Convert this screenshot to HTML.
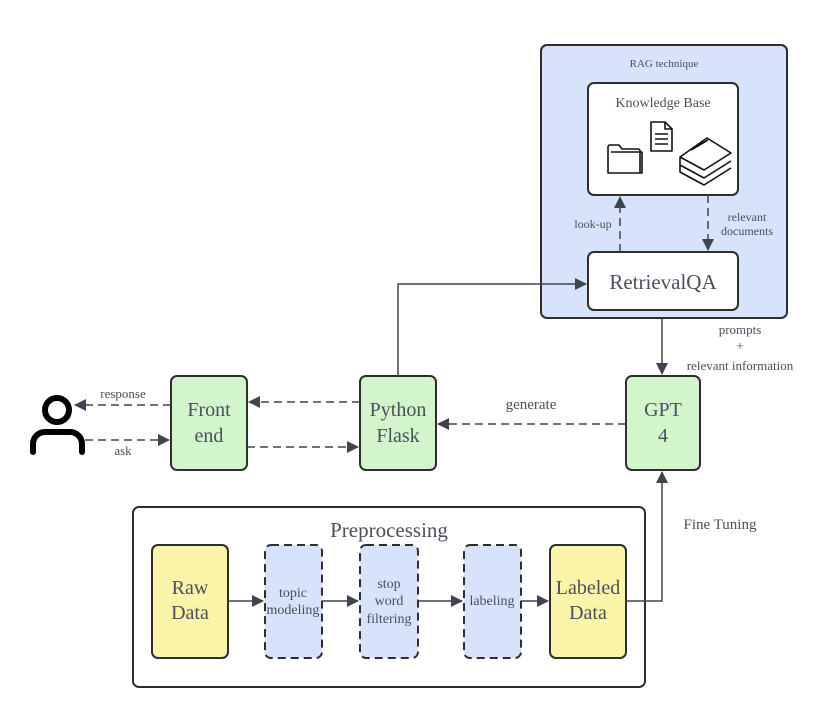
<!DOCTYPE html>
<html><head><meta charset="utf-8"><style>
body{margin:0;background:#fff;width:824px;height:720px;overflow:hidden}
svg text{font-family:"Liberation Serif",serif;fill:#4a4f5c}
</style></head><body>
<svg width="824" height="720" viewBox="0 0 824 720" xmlns="http://www.w3.org/2000/svg">
<defs>
<marker id="a" markerWidth="12" markerHeight="12" refX="11" refY="6" orient="auto" markerUnits="userSpaceOnUse"><path d="M0,0 L12,6 L0,12z" fill="#3f4450"/></marker>
</defs>
<g stroke="#2e2e2e" stroke-width="2">
<rect x="541" y="45" width="246" height="273" rx="6" fill="#d6e3fb"/>
<rect x="588" y="83" width="150" height="112" rx="6" fill="#fff"/>
<rect x="588" y="252" width="150" height="58" rx="6" fill="#fff"/>
<rect x="171" y="376" width="76" height="94" rx="6" fill="#d3f5cc"/>
<rect x="360" y="376" width="76" height="94" rx="6" fill="#d3f5cc"/>
<rect x="626" y="376" width="74" height="94" rx="6" fill="#d3f5cc"/>
<rect x="133" y="507" width="512" height="180" rx="6" fill="#fff"/>
<rect x="152" y="545" width="76" height="113" rx="6" fill="#faf5a8"/>
<rect x="550" y="545" width="76" height="113" rx="6" fill="#faf5a8"/>
<g fill="#d6e3fb" stroke-dasharray="8,5">
<rect x="265" y="545" width="57" height="113" rx="6"/>
<rect x="360" y="545" width="58" height="113" rx="6"/>
<rect x="464" y="545" width="57" height="113" rx="6"/>
</g>
</g>
<!-- person -->
<circle cx="57" cy="410" r="12" fill="none" stroke="#000" stroke-width="6"/>
<path d="M33,452 V444 A12,12 0 0 1 45,432 H70 A12,12 0 0 1 82,444 V452" fill="none" stroke="#000" stroke-width="6" stroke-linecap="round"/>
<!-- icons -->
<g fill="none" stroke="#111" stroke-width="1.6" stroke-linejoin="round">
<path d="M608,173 V147 Q608,145 610,145 H619 L622,149 H638 Q640,149 640,151 V173 Z M611,152 H642 V173 H640"/>
<path d="M651,122 H665 L672,129 V151 H651 Z M665,122 V129 H672 M655,134 H668 M655,139 H668 M655,144 H668"/>
<path d="M680,157 L707,138 L731,153 L704,170 Z M680,157 V165 L704,178 L731,161 M680,165 V172 L704,185 L731,168 M691,150 L708,140"/>
</g>
<!-- connectors -->
<g stroke="#3f4450" stroke-width="1.5" fill="none">
<path d="M398,376 V284 H586" marker-end="url(#a)"/>
<path d="M662,318 V374" marker-end="url(#a)"/>
<path d="M626,601 H662 V472" marker-end="url(#a)"/>
<path d="M228,601 H263" marker-end="url(#a)"/>
<path d="M322,601 H358" marker-end="url(#a)"/>
<path d="M418,601 H462" marker-end="url(#a)"/>
<path d="M521,601 H548" marker-end="url(#a)"/>
<g stroke-dasharray="8,5">
<path d="M620,252 V197" marker-end="url(#a)"/>
<path d="M708,195 V250" marker-end="url(#a)"/>
<path d="M171,405 H75" marker-end="url(#a)"/>
<path d="M85,440 H169" marker-end="url(#a)"/>
<path d="M360,402 H249" marker-end="url(#a)"/>
<path d="M247,447 H358" marker-end="url(#a)"/>
<path d="M626,424 H438" marker-end="url(#a)"/>
</g>
</g>
<!-- text -->
<text x="664" y="67" font-size="11" text-anchor="middle">RAG technique</text>
<text x="663" y="107" font-size="14" text-anchor="middle">Knowledge Base</text>
<text x="663" y="289" font-size="21" text-anchor="middle">RetrievalQA</text>
<text x="593" y="228" font-size="12" text-anchor="middle">look-up</text>
<text x="747" y="221" font-size="12" text-anchor="middle">relevant</text>
<text x="747" y="235" font-size="12" text-anchor="middle">documents</text>
<text x="740" y="334" font-size="13" text-anchor="middle">prompts</text>
<text x="740" y="350" font-size="13" text-anchor="middle">+</text>
<text x="740" y="370" font-size="13" text-anchor="middle">relevant information</text>
<text x="209" y="416" font-size="20" text-anchor="middle">Front</text>
<text x="209" y="442" font-size="20" text-anchor="middle">end</text>
<text x="398" y="416" font-size="20" text-anchor="middle">Python</text>
<text x="398" y="442" font-size="20" text-anchor="middle">Flask</text>
<text x="663" y="416" font-size="20" text-anchor="middle">GPT</text>
<text x="663" y="442" font-size="20" text-anchor="middle">4</text>
<text x="123" y="398" font-size="13" text-anchor="middle">response</text>
<text x="123" y="455" font-size="13" text-anchor="middle">ask</text>
<text x="531" y="409" font-size="15" text-anchor="middle">generate</text>
<text x="720" y="529" font-size="15" text-anchor="middle">Fine Tuning</text>
<text x="389" y="537" font-size="21" text-anchor="middle">Preprocessing</text>
<text x="190" y="594" font-size="20" text-anchor="middle">Raw</text>
<text x="190" y="619" font-size="20" text-anchor="middle">Data</text>
<text x="588" y="594" font-size="20" text-anchor="middle">Labeled</text>
<text x="588" y="619" font-size="20" text-anchor="middle">Data</text>
<text x="293" y="597" font-size="14" text-anchor="middle">topic</text>
<text x="293" y="614" font-size="14" text-anchor="middle">modeling</text>
<text x="389" y="588" font-size="14" text-anchor="middle">stop</text>
<text x="389" y="605" font-size="14" text-anchor="middle">word</text>
<text x="389" y="623" font-size="14" text-anchor="middle">filtering</text>
<text x="492" y="605" font-size="14" text-anchor="middle">labeling</text>
</svg>
</body></html>
